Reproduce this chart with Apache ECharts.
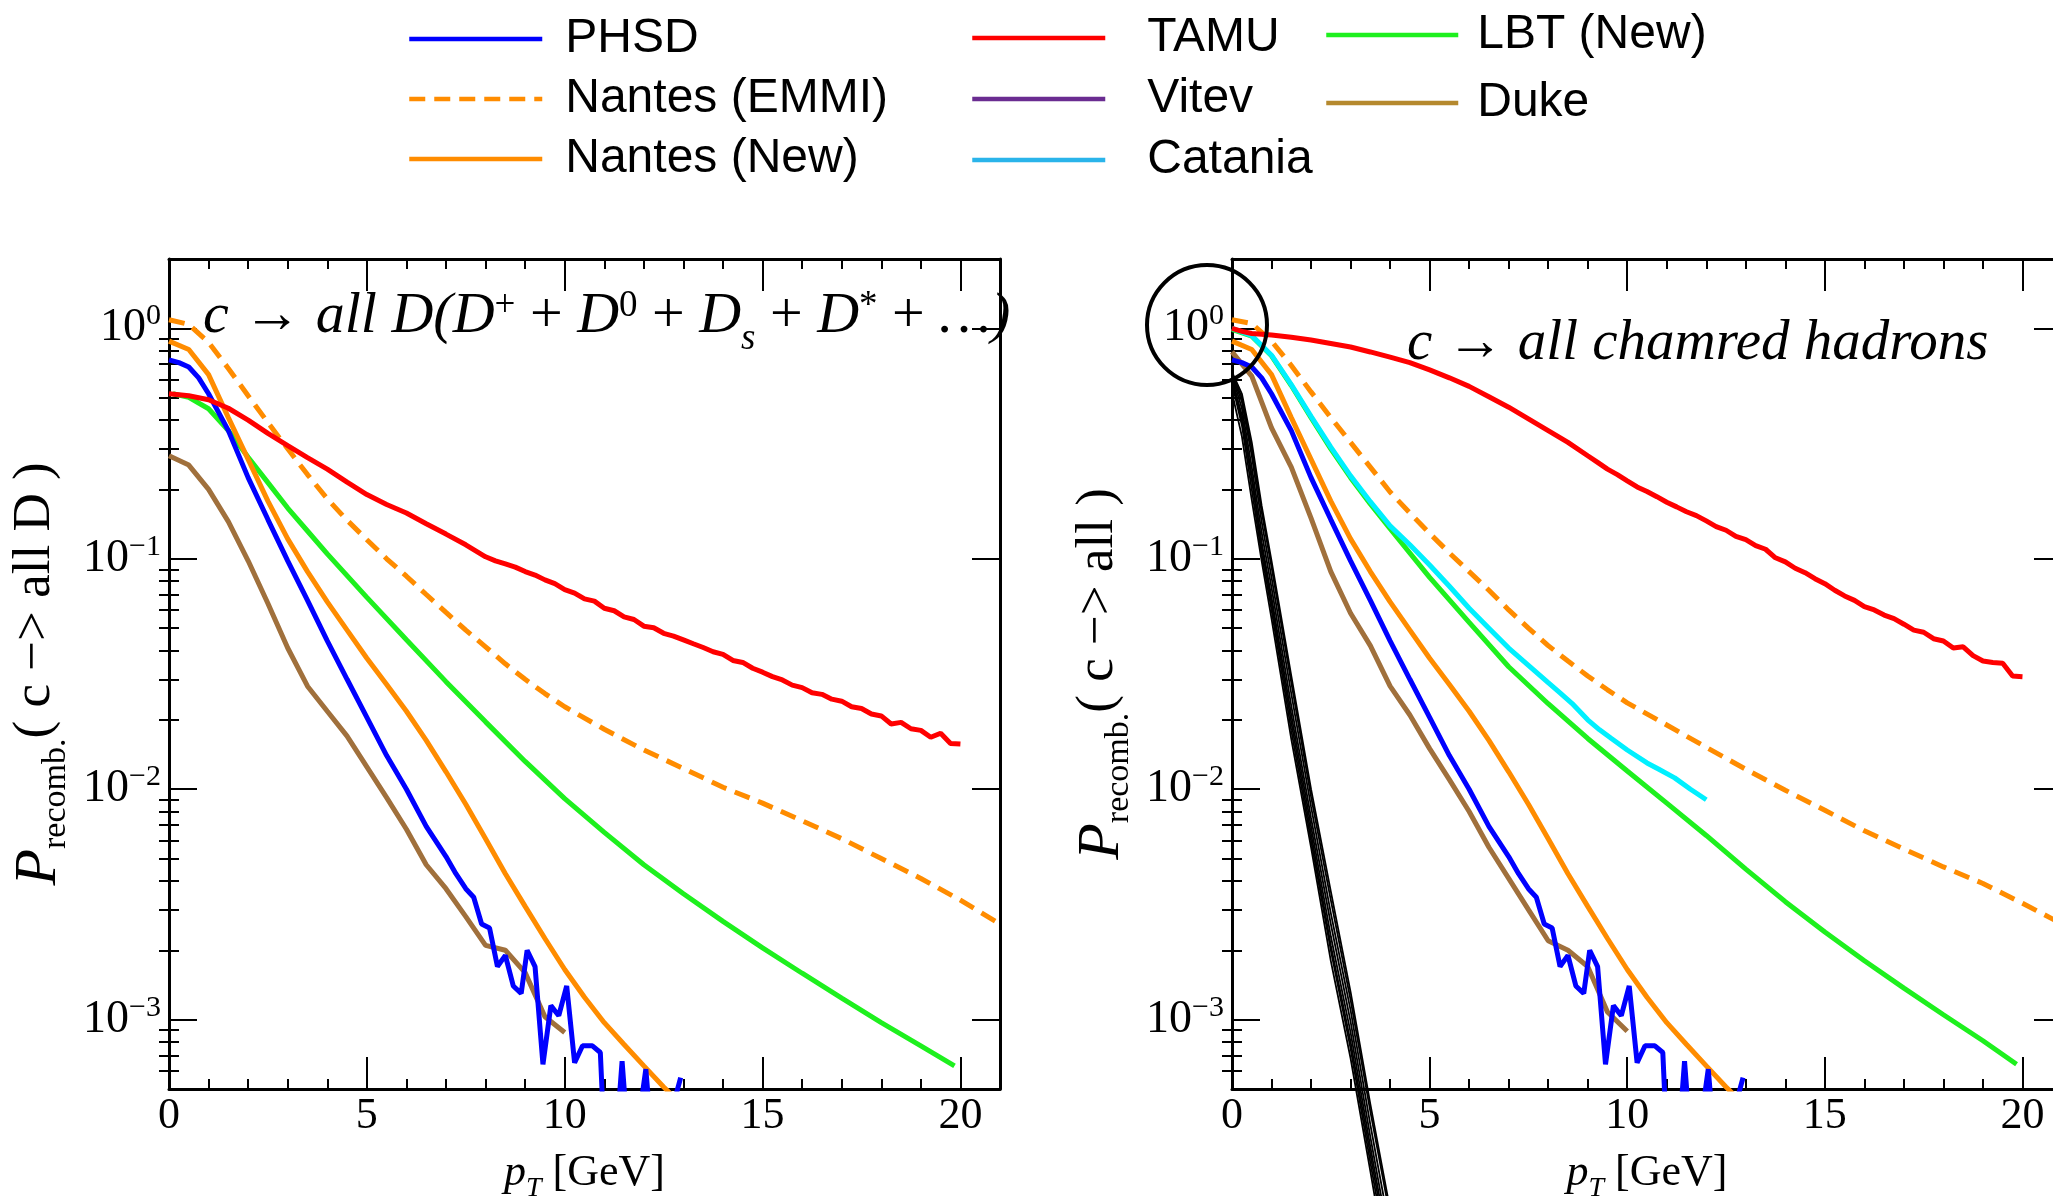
<!DOCTYPE html>
<html><head><meta charset="utf-8">
<script src="https://cdn.jsdelivr.net/npm/echarts@6/dist/echarts.min.js"></script>
<style>html,body{margin:0;padding:0;background:#fff}#c{width:2053px;height:1196px}</style>
</head><body><div id="c"></div><script>
// ---------- tick values ----------
const xMajor = [0,5,10,15,20];
const xMinor = [1,2,3,4,6,7,8,9,11,12,13,14,16,17,18,19];
const yMajor = [0.001,0.01,0.1,1];
const yMinor = [0.0006,0.0007,0.0008,0.0009,0.002,0.003,0.004,0.005,0.006,0.007,0.008,0.009,0.02,0.03,0.04,0.05,0.06,0.07,0.08,0.09,0.2,0.3,0.4,0.5,0.6,0.7,0.8,0.9];

// ---------- shared curves (same in both panels) ----------
const phsdX = [0,0.25,0.5,0.75,1,1.5,2,2.5,3,3.5,4,4.5,5,5.5,6,6.5,7,7.25,7.5,7.7,7.9,8.1,8.3,8.5,8.7,8.9,9.05,9.25,9.45,9.65,9.85,10.05,10.25,10.45,10.7,10.9,11.0,11.3,11.45,11.6,11.8,12.05,12.2,12.5,12.7,12.93];
const phsdY = [0.73,0.71,0.68,0.61,0.52,0.36,0.225,0.148,0.098,0.066,0.044,0.030,0.0205,0.0140,0.0100,0.0069,0.0051,0.0043,0.0037,0.0034,0.0026,0.0025,0.0017,0.0019,0.0014,0.0013,0.0020,0.0017,0.00064,0.00115,0.00104,0.0014,0.00065,0.00077,0.00077,0.00072,0.0003,0.0003,0.00066,0.0003,0.0003,0.00061,0.0003,0.0003,0.0004,0.00056];
const nantesNewX = [0,0.5,1,1.5,2,2.5,3,3.5,4,4.5,5,5.5,6,6.5,7,7.5,8,8.5,9,9.5,10,10.5,11,11.5,12,12.5,13];
const nantesNewY = [0.88,0.81,0.63,0.41,0.27,0.178,0.122,0.088,0.065,0.049,0.037,0.0285,0.0218,0.0163,0.0119,0.0086,0.0061,0.0043,0.0031,0.00225,0.00165,0.00125,0.00097,0.00078,0.00063,0.00051,0.00042];

// ---------- left panel: c -> all D ----------
const tamuDX = [0,0.5,1,1.5,2,2.5,3,3.5,4,4.5,5,5.5,6,6.5,7,7.5,8,8.25,8.5,8.75,9,9.25,9.5,9.75,10,10.25,10.5,10.75,11,11.25,11.5,11.75,12,12.25,12.5,12.75,13,13.25,13.5,13.75,14,14.25,14.5,14.75,15,15.25,15.5,15.75,16,16.25,16.5,16.75,17,17.25,17.5,17.75,18,18.25,18.5,18.75,19,19.25,19.5,19.75,20];
const tamuDY = [0.52,0.51,0.49,0.45,0.40,0.35,0.31,0.275,0.245,0.215,0.19,0.172,0.158,0.142,0.128,0.115,0.102,0.098,0.095,0.092,0.088,0.085,0.081,0.078,0.0735,0.071,0.067,0.0655,0.061,0.0595,0.056,0.0545,0.051,0.0502,0.0475,0.0462,0.0445,0.0428,0.0412,0.0395,0.0385,0.0362,0.0355,0.0335,0.0322,0.0308,0.0298,0.0283,0.0276,0.0262,0.0258,0.0246,0.0241,0.0228,0.0224,0.0212,0.0208,0.0192,0.0195,0.0183,0.0180,0.0168,0.0175,0.0158,0.0157];
const emmiDX = [0,0.5,1,1.5,2,2.5,3,3.5,4,4.5,5,5.5,6,6.5,7,7.5,8,8.5,9,9.5,10,11,12,13,14,15,16,17,18,19,20,21];
const emmiDY = [1.09,1.04,0.87,0.67,0.51,0.39,0.30,0.232,0.182,0.147,0.121,0.100,0.084,0.070,0.0585,0.049,0.0415,0.035,0.030,0.026,0.0228,0.0182,0.0148,0.0123,0.0102,0.0087,0.0073,0.0061,0.0050,0.0041,0.0033,0.0026];
const dukeDX = [0,0.5,1,1.5,2,2.5,3,3.5,4,4.5,5,5.5,6,6.5,7,7.5,8,8.5,9,9.5,10];
const dukeDY = [0.28,0.255,0.20,0.145,0.098,0.064,0.041,0.028,0.0218,0.017,0.0125,0.0092,0.0067,0.0047,0.0037,0.0028,0.0021,0.0020,0.0016,0.00103,0.00088];
const lbtDX = [0.1,0.5,1,1.5,2,2.5,3,3.5,4,5,6,7,8,9,10,11,12,13,14,15,16,17,18,19,19.85];
const lbtDY = [0.52,0.502,0.448,0.36,0.276,0.214,0.166,0.132,0.105,0.068,0.0445,0.0293,0.0196,0.0132,0.0091,0.0065,0.0047,0.00352,0.00267,0.00205,0.00159,0.00124,0.00097,0.00077,0.00063];

// ---------- right panel: c -> all charmed hadrons ----------
const tamuAX = [0,0.25,0.5,1,1.5,2,2.5,3,3.5,4,4.5,5,5.5,6,6.5,7,7.5,8,8.5,9,9.25,9.5,9.75,10,10.25,10.5,10.75,11,11.25,11.5,11.75,12,12.25,12.5,12.75,13,13.25,13.5,13.75,14,14.25,14.5,14.75,15,15.25,15.5,15.75,16,16.25,16.5,16.75,17,17.25,17.5,17.75,18,18.25,18.5,18.75,19,19.25,19.5,19.75,20];
const tamuAY = [1.0,0.97,0.95,0.935,0.915,0.89,0.86,0.83,0.79,0.75,0.71,0.66,0.61,0.56,0.505,0.455,0.405,0.36,0.32,0.28,0.262,0.245,0.232,0.218,0.205,0.196,0.186,0.176,0.168,0.160,0.154,0.146,0.138,0.133,0.125,0.121,0.114,0.110,0.101,0.097,0.091,0.087,0.082,0.078,0.073,0.069,0.066,0.062,0.060,0.057,0.055,0.052,0.049,0.048,0.045,0.044,0.041,0.0415,0.038,0.036,0.0355,0.0352,0.031,0.0308];
const emmiAX = [0,0.5,1,1.5,2,2.5,3,3.5,4,4.5,5,5.5,6,6.5,7,7.5,8,8.5,9,9.5,10,11,12,13,14,15,16,17,18,19,20,21];
const emmiAY = [1.09,1.05,0.88,0.69,0.53,0.41,0.32,0.25,0.195,0.158,0.129,0.106,0.088,0.073,0.060,0.050,0.042,0.036,0.031,0.027,0.0237,0.0190,0.0152,0.0122,0.0099,0.0081,0.0066,0.0055,0.0046,0.0039,0.0032,0.0026];
const dukeAX = [0,0.5,1,1.5,2,2.5,3,3.5,4,4.5,5,5.5,6,6.5,7,7.5,8,8.5,9,9.5,10];
const dukeAY = [0.79,0.62,0.37,0.25,0.15,0.088,0.058,0.042,0.028,0.021,0.0150,0.0110,0.0080,0.0056,0.0041,0.0030,0.0022,0.0020,0.0017,0.00108,0.00089];
const lbtAX = [0,0.5,1,1.5,2,2.5,3,3.5,4,5,6,7,8,9,10,11,12,13,14,15,16,17,18,19,19.85];
const lbtAY = [0.99,0.925,0.76,0.565,0.41,0.30,0.225,0.173,0.135,0.083,0.053,0.034,0.0235,0.0166,0.0120,0.0087,0.0063,0.0045,0.00325,0.00240,0.00180,0.00137,0.00105,0.00081,0.00064];
const cataniaX = [0,0.5,1,1.5,2,2.5,3,3.5,4,4.5,5,5.5,6,6.5,7,7.5,8,8.3,8.6,9,9.3,9.6,10,10.5,10.8,11.2,11.6,12];
const cataniaY = [1.0,0.93,0.765,0.57,0.415,0.305,0.229,0.177,0.139,0.115,0.094,0.076,0.061,0.050,0.041,0.0345,0.0290,0.0262,0.0236,0.0200,0.0181,0.0166,0.0148,0.0130,0.0122,0.0112,0.0100,0.0090];
// black hand-drawn bundle (right panel)
const bundleX = [0.03,0.25,0.5,0.75,1,1.5,2,2.5,3,3.5,4];
const bundle1 = [0.60,0.45,0.25,0.13,0.075,0.023,0.0075,0.0026,0.00098,0.00031,0.000105];
const bundle2 = [0.55,0.38,0.20,0.105,0.060,0.018,0.0060,0.0020,0.00075,0.00024,0.00008];
const bundle3 = [0.62,0.50,0.30,0.16,0.092,0.029,0.0093,0.0033,0.00122,0.00040,0.00014];
const bundle4 = [0.58,0.42,0.23,0.118,0.068,0.021,0.0069,0.0023,0.00088,0.00028,0.000095];
const bundle5 = [0.61,0.48,0.28,0.145,0.083,0.026,0.0084,0.0029,0.00110,0.00035,0.00012];
const bundle6 = [0.50,0.34,0.18,0.098,0.055,0.0165,0.0056,0.0018,0.00068,0.00022,0.00007];
const bundle7 = [0.57,0.40,0.22,0.112,0.064,0.0195,0.0064,0.0021,0.00080,0.00026,0.000088];
const bundle8 = [0.63,0.52,0.32,0.17,0.098,0.031,0.0100,0.0036,0.00132,0.00043,0.00015];

// ---------- styling ----------
const serif = '"Liberation Serif","Times New Roman",serif';
const sans = '"Liberation Sans",Arial,Helvetica,sans-serif';
const C = {phsd:'#0000ff', tamu:'#ff0000', lbt:'#1ef01e', nantes:'#ff8c00', vitev:'#6a2c91', catania:'#00f0ff', duke:'#a0703c'};

const xNameRich = {
  p:{fontFamily:serif,fontStyle:'italic',fontSize:44,lineHeight:46,verticalAlign:'top',color:'#000'},
  s:{fontFamily:serif,fontStyle:'italic',fontSize:28,lineHeight:28,padding:[24,0,0,0],verticalAlign:'top',color:'#000'},
  t:{fontFamily:serif,fontSize:44,lineHeight:46,verticalAlign:'top',color:'#000'}
};
const yNameRich = {
  P:{fontFamily:serif,fontStyle:'italic',fontSize:60,lineHeight:60,verticalAlign:'top',color:'#000'},
  s:{fontFamily:serif,fontSize:34,lineHeight:34,padding:[30,0,0,0],verticalAlign:'top',color:'#000'},
  t:{fontFamily:serif,fontSize:53,lineHeight:60,verticalAlign:'top',color:'#000'}
};
const yLabRich = {
  b:{fontFamily:serif,fontSize:46,lineHeight:46,verticalAlign:'bottom',color:'#000'},
  e:{fontFamily:serif,fontSize:30,lineHeight:30,padding:[0,0,20,0],verticalAlign:'bottom',color:'#000'}
};
function yFmt(v){
  const l = Math.log10(v), e = Math.round(l);
  if (Math.abs(l-e) > 1e-6) return '';
  return '{b|10}{e|' + (e < 0 ? '\u2212' + (-e) : e) + '}';
}
const axLine = {show:true,onZero:false,lineStyle:{color:'#000',width:3}};
const tickStyle = {color:'#000',width:2};

function makeX(grid){
  const base = {type:'value',gridIndex:grid,min:0,max:21,splitLine:{show:false}};
  return [
    Object.assign({},base,{position:'bottom',axisLine:axLine,
      axisTick:{show:true,inside:true,length:32,customValues:xMajor,lineStyle:tickStyle},
      axisLabel:{show:true,customValues:xMajor,formatter:v=>(Math.abs(v%5)<1e-9&&v<=20?String(v):''),fontFamily:serif,fontSize:44,color:'#000',margin:5},
      name:'{p|p}{s|T}{t| [GeV]}',nameLocation:'middle',nameGap:62,nameTextStyle:{rich:xNameRich}}),
    Object.assign({},base,{position:'top',axisLine:axLine,
      axisTick:{show:true,inside:true,length:32,customValues:xMajor,lineStyle:tickStyle},axisLabel:{show:false}}),
    Object.assign({},base,{position:'bottom',axisLine:{show:false},
      axisTick:{show:true,inside:true,length:10,customValues:xMinor,lineStyle:tickStyle},axisLabel:{show:false}}),
    Object.assign({},base,{position:'top',axisLine:{show:false},
      axisTick:{show:true,inside:true,length:10,customValues:xMinor,lineStyle:tickStyle},axisLabel:{show:false}})
  ];
}
function makeY(grid, title){
  const base = {type:'log',logBase:10,gridIndex:grid,min:0.0005,max:2,splitLine:{show:false}};
  return [
    Object.assign({},base,{position:'left',axisLine:axLine,
      axisTick:{show:true,inside:true,length:28,customValues:yMajor,lineStyle:tickStyle},
      axisLabel:{show:true,customValues:yMajor,formatter:yFmt,rich:yLabRich,margin:8},
      name:title,nameLocation:'middle',nameRotate:90,nameGap:100,nameTextStyle:{rich:yNameRich}}),
    Object.assign({},base,{position:'right',axisLine:axLine,
      axisTick:{show:true,inside:true,length:28,customValues:yMajor,lineStyle:tickStyle},axisLabel:{show:false}}),
    Object.assign({},base,{position:'left',axisLine:{show:false},
      axisTick:{show:true,inside:true,length:10,customValues:yMinor,lineStyle:tickStyle},axisLabel:{show:false}}),
    Object.assign({},base,{position:'right',axisLine:{show:false},
      axisTick:{show:true,inside:true,length:10,customValues:yMinor,lineStyle:tickStyle},axisLabel:{show:false}})
  ];
}
function pairs(xs, ys){ return xs.map((x,i)=>[x, ys[i]]); }
function line(name, xs, ys, color, grid, extra){
  const s = {type:'line',name:name,xAxisIndex:grid*4,yAxisIndex:grid*4,data:pairs(xs,ys),
    showSymbol:false,symbol:'none',color:color,lineStyle:{color:color,width:5},itemStyle:{color:color},
    animation:false,silent:true,clip:true,z:3};
  return Object.assign(s, extra||{});
}
const dash = {lineStyle:{color:C.nantes,width:5,type:[16,9]}};
function bundle(ys){
  return {type:'line',name:'_bundle',xAxisIndex:4,yAxisIndex:4,data:pairs(bundleX,ys),showSymbol:false,symbol:'none',
    color:'#000',lineStyle:{color:'#000',width:1.8},animation:false,silent:true,clip:false,z:2};
}

const series = [
  // left
  line('Duke', dukeDX, dukeDY, C.duke, 0),
  line('LBT (New)', lbtDX, lbtDY, C.lbt, 0),
  line('Nantes (EMMI)', emmiDX, emmiDY, C.nantes, 0, dash),
  line('Nantes (New)', nantesNewX, nantesNewY, C.nantes, 0),
  line('PHSD', phsdX, phsdY, C.phsd, 0),
  line('TAMU', tamuDX, tamuDY, C.tamu, 0),
  line('Vitev', [], [], C.vitev, 0),
  // right
  bundle(bundle1), bundle(bundle2), bundle(bundle3), bundle(bundle4),
  bundle(bundle5), bundle(bundle6), bundle(bundle7), bundle(bundle8),
  line('Duke', dukeAX, dukeAY, C.duke, 1),
  line('LBT (New)', lbtAX, lbtAY, C.lbt, 1),
  line('Catania', cataniaX, cataniaY, C.catania, 1),
  line('Nantes (EMMI)', emmiAX, emmiAY, C.nantes, 1, dash),
  line('Nantes (New)', nantesNewX, nantesNewY, C.nantes, 1),
  line('PHSD', phsdX, phsdY, C.phsd, 1),
  line('TAMU', tamuAX, tamuAY, C.tamu, 1)
];

const legText = {fontFamily:sans,fontSize:48,lineHeight:50,color:'#000'};
const legBase = {orient:'vertical',padding:0,itemHeight:14,selectedMode:false,
  itemStyle:{opacity:0},lineStyle:{width:4.5}};
const option = {
  animation:false,
  backgroundColor:'#fff',
  grid:[
    {left:169,top:259,width:831,height:830,show:false,outerBoundsMode:'none',containLabel:false},
    {left:1232,top:259,width:830,height:830,show:false,outerBoundsMode:'none',containLabel:false}
  ],
  xAxis: makeX(0).concat(makeX(1)),
  yAxis: makeY(0,'{P|P}{s|recomb.}{t|( c \u2212> all D )}').concat(makeY(1,'{P|P}{s|recomb.}{t|( c \u2212> all )}')),
  legend:[
    Object.assign({},legBase,{left:407,top:14,itemWidth:133,itemGap:10,
      data:['PHSD','Nantes (EMMI)','Nantes (New)'],textStyle:Object.assign({padding:[0,0,0,18]},legText)}),
    Object.assign({},legBase,{left:970,top:13,itemWidth:133,itemGap:11,
      data:['TAMU','Vitev',{name:'Catania',itemStyle:{color:'#2ab4ea',opacity:0},lineStyle:{color:'#2ab4ea',width:4.5}}],
      textStyle:Object.assign({padding:[0,0,0,37]},legText)}),
    Object.assign({},legBase,{left:1324,top:10,itemWidth:132,itemGap:18,
      data:['LBT (New)',{name:'Duke',itemStyle:{color:'#b5892e',opacity:0},lineStyle:{color:'#b5892e',width:4.5}}],
      textStyle:Object.assign({padding:[0,0,0,14]},legText)})
  ],
  graphic:[
    {type:'circle',shape:{cx:1207,cy:325,r:60},style:{fill:'none',stroke:'#000',lineWidth:4},z:100,silent:true},
    {type:'text',left:203,top:288,z:100,silent:true,style:{
      text:'{i|c}{o| \u2192 }{i|all D(D}{p|+}{o| + }{i|D}{p|0}{o| + }{i|D}{b|s}{o| + }{i|D}{p|*}{o| + }{i|\u2026)}',
      rich:{
        i:{fontFamily:serif,fontStyle:'italic',fontSize:58,lineHeight:66,verticalAlign:'top',fill:'#000'},
        o:{fontFamily:serif,fontSize:58,lineHeight:66,verticalAlign:'top',fill:'#000'},
        p:{fontFamily:serif,fontSize:37,lineHeight:37,verticalAlign:'top',fill:'#000'},
        b:{fontFamily:serif,fontStyle:'italic',fontSize:37,lineHeight:37,padding:[33,0,0,0],verticalAlign:'top',fill:'#000'}
      }}},
    {type:'text',left:1407,top:316,z:100,silent:true,style:{
      text:'{i|c}{o| \u2192 }{i|all chamred hadrons}',
      rich:{i:{fontFamily:serif,fontStyle:'italic',fontSize:57,lineHeight:62,fill:'#000'},
            o:{fontFamily:serif,fontSize:57,lineHeight:62,fill:'#000'}}}}
  ],
  series:series
};
const chart = echarts.init(document.getElementById('c'), null, {renderer:'canvas', width:2053, height:1196});
chart.setOption(option);
</script></body></html>
